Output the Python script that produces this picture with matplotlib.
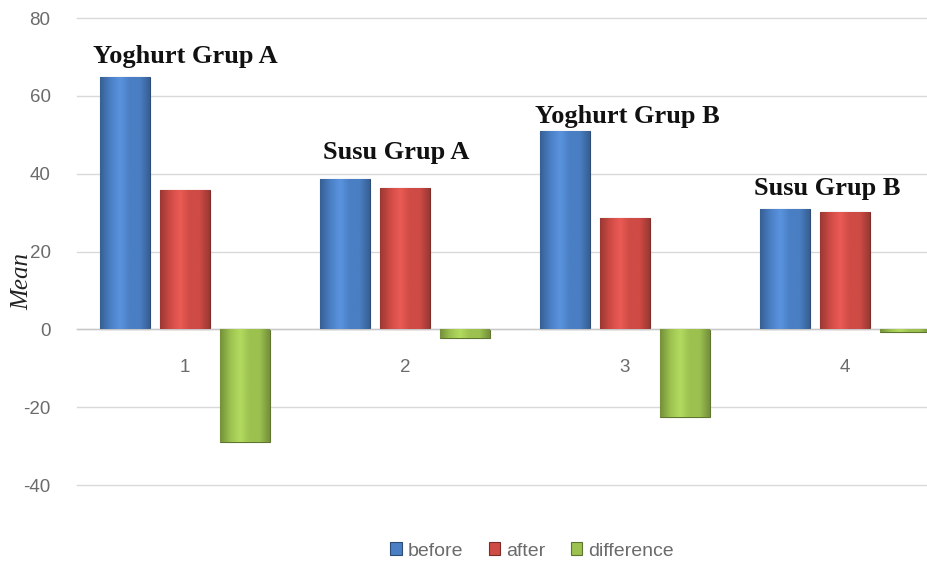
import matplotlib
matplotlib.use("Agg")

import matplotlib.pyplot as plt
import numpy as np
from matplotlib.colors import LinearSegmentedColormap


# ============================================================
# Data
# ============================================================

groups = [1, 2, 3, 4]
before = [64.9, 38.7, 51.0, 31.0]
after = [35.9, 36.4, 28.5, 30.2]
difference = [-29.0, -2.3, -22.5, -0.8]

group_names = ["Yoghurt Grup A", "Susu Grup A", "Yoghurt Grup B", "Susu Grup B"]
name_x = [1.0, 1.96, 3.01, 3.92]
name_y = [70, 45.5, 54.8, 36.3]

series = [
    ("before", before, "#4a7fc4"),
    ("after", after, "#cf4b45"),
    ("difference", difference, "#9cc14f"),
]


# ============================================================
# Helpers
# ============================================================

def shade(ax, bar, color):
    # bevel-like horizontal gradient clipped to the bar
    base = np.array(matplotlib.colors.to_rgb(color))
    dark = base * 0.75
    light = np.clip(base * 1.08 + 0.04, 0, 1)
    cmap = LinearSegmentedColormap.from_list(
        "bevel", [dark, base, light, base, base, dark]
    )
    x0, y0 = bar.get_x(), bar.get_y()
    w, h = bar.get_width(), bar.get_height()
    grad = np.linspace(0, 1, 64).reshape(1, -1)
    im = ax.imshow(
        grad,
        cmap=cmap,
        extent=(x0, x0 + w, y0, y0 + h),
        aspect="auto",
        zorder=3,
        interpolation="bicubic",
    )
    im.set_clip_path(bar)


# ============================================================
# Main
# ============================================================

def main():

    plt.rcParams["font.family"] = ["Liberation Sans", "DejaVu Sans"]
    plt.rcParams["axes.unicode_minus"] = False

    fig = plt.figure(figsize=(9.27, 5.64), dpi=100)
    ax = fig.add_axes([0.083, 0.140, 0.917, 0.828])

    x = np.array(groups, dtype=float)
    width = 0.227
    offsets = [-0.2727, 0.0, 0.2727]

    handles = []
    for (label, values, color), off in zip(series, offsets):
        bars = ax.bar(
            x + off,
            values,
            width=width,
            color=color,
            edgecolor=np.array(matplotlib.colors.to_rgb(color)) * 0.6,
            linewidth=0.8,
            label=label,
            zorder=2,
        )
        for bar in bars:
            shade(ax, bar, color)
        handles.append(bars)

    for name, nx, ny in zip(group_names, name_x, name_y):
        ax.text(
            nx,
            ny,
            name,
            ha="center",
            va="center",
            fontsize=19,
            fontweight="bold",
            family="Liberation Serif",
            color="#111111",
            zorder=5,
        )

    ax.set_xlim(0.509, 4.373)
    ax.set_ylim(-40, 80)
    ax.set_yticks(np.arange(-40, 81, 20))
    ax.set_xticks(groups)
    ax.set_xticklabels([str(g) for g in groups])

    ax.grid(axis="y", color="#d9d9d9", linewidth=1.0, zorder=0)
    ax.set_axisbelow(True)
    for gl in ax.get_ygridlines():
        gl.set_clip_on(False)

    for side in ["top", "right", "left"]:
        ax.spines[side].set_visible(False)
    ax.spines["bottom"].set_position(("data", 0))
    ax.spines["bottom"].set_color("#c8c8c8")
    ax.spines["bottom"].set_linewidth(1.0)

    ax.tick_params(axis="y", length=0, pad=19, labelsize=13.5,
                   labelcolor="#6b6b6b")
    ax.tick_params(axis="x", length=0, pad=21, labelsize=13.5,
                   labelcolor="#6b6b6b")

    fig.text(
        0.024,
        1 - 282 / 564,
        "Mean",
        rotation=90,
        ha="center",
        va="center",
        fontsize=18,
        style="italic",
        family="Liberation Serif",
        color="#222222",
    )

    fig.legend(
        handles=handles,
        labels=[s[0] for s in series],
        loc="center",
        bbox_to_anchor=(532 / 927, 1 - 551 / 564),
        ncol=3,
        frameon=False,
        fontsize=14,
        labelcolor="#6b6b6b",
        handlelength=0.6,
        handleheight=0.6,
        handletextpad=0.3,
        columnspacing=1.3,
    )

    fig.savefig("out.png", dpi=100)
    plt.close(fig)


if __name__ == "__main__":
    main()
